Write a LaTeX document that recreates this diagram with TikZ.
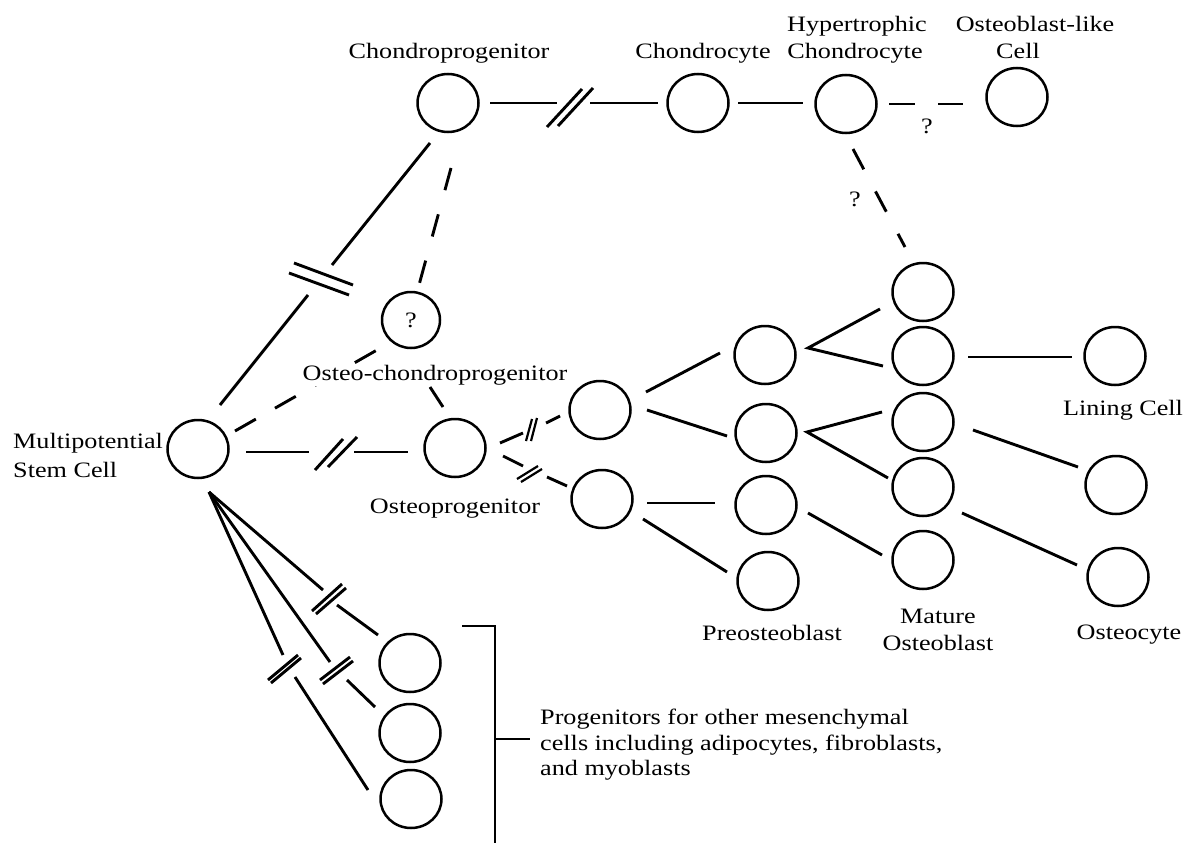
\documentclass[tikz,border=0pt]{standalone}
\usepackage{fontspec}
\setmainfont{Liberation Serif}[FakeStretch=1.19]
\usetikzlibrary{calc,shapes.geometric}
\begin{document}
\begin{tikzpicture}[x=1pt,y=-1pt,
  cell/.style={draw, ellipse, minimum width=61pt, minimum height=58pt, inner sep=0pt, line width=2.5pt, font=\fontsize{22}{26}\selectfont},
  link/.style={line width=2.9pt},
  dlinkA/.style={link, dash pattern=on 24pt off 22pt},
  dlinkB/.style={link, dash pattern=on 23pt off 25pt},
  dlinkC/.style={link, dash pattern=on 26pt off 23pt},
  lbl/.style={font=\fontsize{22}{26}\selectfont, inner sep=0pt, anchor=base},
  lblw/.style={lbl, anchor=base west},
  brack/.style={line width=2.3pt}]
\useasboundingbox (0,0) rectangle (1192,843);

% cells
\node[cell] (S)   at (198,449) {};
\node[cell] (CP)  at (448,103) {};
\node[cell] (CH)  at (698,103) {};
\node[cell] (HY)  at (846,104) {};
\node[cell] (OBL) at (1017,97) {};
\node[cell, minimum width=58pt, minimum height=56pt] (OCP) at (411,320) {?};
\node[cell] (OP)  at (455,448) {};
\node[cell] (P1)  at (600,410) {};
\node[cell] (P2)  at (602,499) {};
\node[cell] (Q1)  at (765,355) {};
\node[cell] (Q2)  at (766,433) {};
\node[cell] (Q3)  at (766,505) {};
\node[cell] (Q4)  at (768,581) {};
\node[cell] (M1)  at (923,292) {};
\node[cell] (M2)  at (923,356) {};
\node[cell] (M3)  at (923,422) {};
\node[cell] (M4)  at (923,487) {};
\node[cell] (M5)  at (923,560) {};
\node[cell] (LC)  at (1115,356) {};
\node[cell] (O1)  at (1116,485) {};
\node[cell] (O2)  at (1118,577) {};
\node[cell] (B1)  at (410,663) {};
\node[cell] (B2)  at (410,733) {};
\node[cell] (B3)  at (411,799) {};

% stem -> chondroprogenitor (broken)
\draw[link] ($(S)+(22,-44)$) -- ($(S)+(110,-154)$);
\draw[link] ($(CP)+(-116,162)$) -- ($(CP)+(-18,40)$);
\coordinate (m1) at ($(S)!0.5!(CP)$);
\draw[link] ($(m1)+(-29,-13)$) -- ($(m1)+(30,9)$);
\draw[link] ($(m1)+(-34,-3)$) -- ($(m1)+(26,19)$);

% chondroprogenitor -> chondrocyte (broken)
\draw[link] ($(CP)+(42,0)$) -- ($(CP)+(109,0)$);
\draw[link] ($(CH)+(-108,0)$) -- ($(CH)+(-40,0)$);
\coordinate (m2) at ($(CP)!0.5!(CH)$);
\draw[link] ($(m2)+(-26,24)$) -- ($(m2)+(9,-14)$);
\draw[link] ($(m2)+(-15,23)$) -- ($(m2)+(20,-15)$);

% chondrocyte -> hypertrophic
\draw[link] ($(CH)+(40,0)$) -- ($(HY)+(-43,-1)$);
% hypertrophic -> osteoblast-like (dashed)
\draw[dlinkC] ($(HY)+(43,0)$) -- ($(OBL)+(-54,7)$);
% hypertrophic -> mature osteoblast (dashed)
\draw[dlinkB] ($(HY)+(7,45)$) -- ($(M1)+(-18,-45)$);

% stem -> osteo-chondroprogenitor (dashed)
\draw[dlinkA] ($(S)+(37,-18)$) -- ($(OCP)+(-34,30)$);
% chondroprogenitor -> osteo-chondroprogenitor (dashed)
\draw[dlinkB] ($(CP)+(3,65)$) -- ($(OCP)+(8,-35)$);
% osteo-chondroprogenitor -> osteoprogenitor
\draw[link] ($(OCP)+(19,67)$) -- ($(OP)+(-12,-41)$);

% stem -> osteoprogenitor (broken)
\draw[link] ($(S)+(48,3)$) -- ($(OP)+(-146,4)$);
\draw[link] ($(OP)+(-101,4)$) -- ($(OP)+(-47,4)$);
\coordinate (m3) at ($(S)!0.5!(OP)$);
\draw[link] ($(m3)+(-11.5,21.5)$) -- ($(m3)+(16.5,-9.5)$);
\draw[link] ($(m3)+(1.5,18.5)$) -- ($(m3)+(30.5,-11.5)$);

% osteoprogenitor -> P1 (broken)
\coordinate (m4) at ($(OP)!0.5!(P1)$);
\draw[link] ($(OP)+(45,-5)$) -- ($(m4)+(-4.5,4)$);
\draw[link] ($(m4)+(18.5,-6)$) -- ($(P1)+(-40,6)$);
\draw[line width=2.2pt] ($(m4)+(-1.5,12)$) -- ($(m4)+(4.5,-10)$);
\draw[line width=2.2pt] ($(m4)+(3.5,12)$) -- ($(m4)+(9.5,-11)$);

% osteoprogenitor -> P2 (broken)
\coordinate (m5) at ($(OP)!0.5!(P2)$);
\draw[link] ($(OP)+(48,8)$) -- ($(m5)+(-5.5,-7.5)$);
\draw[link] ($(m5)+(18.5,3.5)$) -- ($(P2)+(-35,-13)$);
\draw[line width=2.2pt] ($(m5)+(-11.5,5.5)$) -- ($(m5)+(9.5,-7.5)$);
\draw[line width=2.2pt] ($(m5)+(-7.5,8.5)$) -- ($(m5)+(13.5,-4.5)$);

% P1, P2 -> preosteoblasts
\draw[link] ($(P1)+(46,-18)$) -- ($(Q1)+(-45,-2)$);
\draw[link] ($(P1)+(47,0)$) -- ($(Q2)+(-39,3)$);
\draw[link] ($(P2)+(45,4)$) -- ($(Q3)+(-51,-2)$);
\draw[link] ($(P2)+(41,20)$) -- ($(Q4)+(-41,-9)$);

% preosteoblasts -> mature osteoblasts
\coordinate (f1) at ($(Q1)+(43,-7)$);
\draw[link] ($(M1)+(-43,17)$) -- (f1) -- ($(M2)+(-40,10)$);
\coordinate (f2) at ($(Q2)+(41,-1)$);
\draw[link] ($(M3)+(-41,-10)$) -- (f2) -- ($(M4)+(-35,-9)$);
\draw[link] ($(Q3)+(42,8)$) -- ($(M5)+(-41,-5)$);

% mature -> lining / osteocytes
\draw[link] ($(M2)+(45,1)$) -- ($(LC)+(-43,1)$);
\draw[link] ($(M3)+(50,8)$) -- ($(O1)+(-38,-18)$);
\draw[link] ($(M4)+(39,26)$) -- ($(O2)+(-41,-12)$);

% stem -> other progenitors (broken)
\coordinate (H) at ($(S)+(11,43)$);
\draw[link] (H) -- ($(B1)+(-87,-73)$);
\draw[link] ($(B1)+(-73,-58)$) -- ($(B1)+(-32,-28)$);
\draw[link] ($(B1)+(-98,-52)$) -- ($(B1)+(-68,-79)$);
\draw[link] ($(B1)+(-94,-49)$) -- ($(B1)+(-64,-75)$);
\draw[link] (H) -- ($(B2)+(-80,-71)$);
\draw[link] ($(B2)+(-63,-53)$) -- ($(B2)+(-35,-26)$);
\draw[link] ($(B2)+(-90,-53)$) -- ($(B2)+(-60,-76)$);
\draw[link] ($(B2)+(-87,-49)$) -- ($(B2)+(-57,-72)$);
\draw[link] (H) -- ($(B3)+(-128,-144)$);
\draw[link] ($(B3)+(-116,-122)$) -- ($(B3)+(-43,-9)$);
\draw[link] ($(B3)+(-143,-119)$) -- ($(B3)+(-113,-144)$);
\draw[link] ($(B3)+(-140,-116)$) -- ($(B3)+(-110,-141)$);

% bracket
\coordinate (bt) at (462,626);
\coordinate (bb) at (495,843);
\coordinate (bm) at (495,739);
\coordinate (bk) at (530,739);
\draw[brack] (bt) -| (bb);
\draw[brack] (bm) -- (bk);

% labels
\node[lblw] (tS1) at (13,448) {Multipotential};
\node[lblw] (tS2) at (13,477) {Stem Cell};
\node[lbl] (tCP) at (449,59) {Chondroprogenitor};
\node[lbl] (tCH) at (703,59) {Chondrocyte};
\node[lbl] (tHY1) at (857,32) {Hypertrophic};
\node[lbl] (tHY2) at (855,59) {Chondrocyte};
\node[lbl] (tOB1) at (1035,32) {Osteoblast-like};
\node[lbl] (tOB2) at (1018,59) {Cell};
\node[lbl] (q1) at (927,133) {?};
\node[lbl] (q2) at (855,206) {?};
\node[lbl, fill=white, inner sep=1pt] (tOCP) at (435,380) {Osteo-chondroprogenitor};
\node[lbl] (tOP) at (455,513) {Osteoprogenitor};
\node[lbl] (tLC) at (1123,415) {Lining Cell};
\node[lbl] (tPO) at (772,640) {Preosteoblast};
\node[lbl] (tMO1) at (938,623) {Mature};
\node[lbl] (tMO2) at (938,650) {Osteoblast};
\node[lbl] (tOC) at (1129,639) {Osteocyte};
\node[lblw] (tPr1) at (540,724) {Progenitors for other mesenchymal};
\node[lblw] (tPr2) at (540,750) {cells including adipocytes, fibroblasts,};
\node[lblw] (tPr3) at (540,775) {and myoblasts};
\end{tikzpicture}
\end{document}
